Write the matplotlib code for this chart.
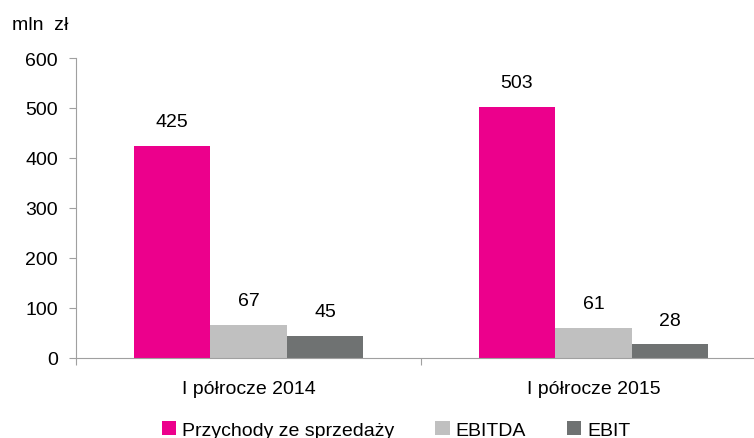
import numpy as np
import matplotlib.pyplot as plt

categories = ["I półrocze 2014", "I półrocze 2015"]
series_names = ["Przychody ze sprzedaży", "EBITDA", "EBIT"]
przychody = [425, 503]
ebitda = [67, 61]
ebit = [45, 28]
colors = ["#EC008C", "#C0C0C0", "#6F7272"]

plt.rcParams["font.family"] = ["Liberation Sans", "DejaVu Sans"]
plt.rcParams["font.size"] = 14

fig = plt.figure(figsize=(7.54, 4.39), dpi=100)
ax = fig.add_axes([76 / 754, 1 - 359 / 439, 1 - 76 / 754, 300 / 439])

x = np.arange(len(categories))
w = 0.222
values = [przychody, ebitda, ebit]
for i, (name, vals, c) in enumerate(zip(series_names, values, colors)):
    pos = x + (i - 1) * w
    ax.bar(pos, vals, width=w, color=c, label=name)
    for px, v in zip(pos, vals):
        ax.annotate(str(v), (px, v), xytext=(0, 11), textcoords="offset points",
                    ha="center", va="bottom")

ax.set_ylim(0, 600)
ax.set_yticks(range(0, 601, 100))
ax.set_xticks([-0.5, 0.5, 1.5], minor=False)
ax.set_xticklabels([])
ax.set_xticks(x, minor=True)
ax.set_xticklabels(categories, minor=True)
# set the limits after the ticks so they are not expanded
ax.set_xlim(-0.5, 1.5 - 12 / 345)
ax.tick_params(axis="x", which="major", length=5, color="#A0A0A0")
ax.tick_params(axis="x", which="minor", length=0, pad=16)
ax.tick_params(axis="y", length=5, color="#A0A0A0", pad=8)

for s in ["top", "right"]:
    ax.spines[s].set_visible(False)
ax.spines["left"].set_color("#A0A0A0")
ax.spines["bottom"].set_color("#A0A0A0")

fig.text(12 / 754, 1 - 25 / 439, "mln  zł", ha="left", va="center")

fig.legend(loc="center", bbox_to_anchor=(396 / 754, 1 - 431 / 439), ncol=3, frameon=False,
           handlelength=0.75, handleheight=0.75, handletextpad=0.3, columnspacing=2.1)

fig.savefig("out.png", dpi=100)
